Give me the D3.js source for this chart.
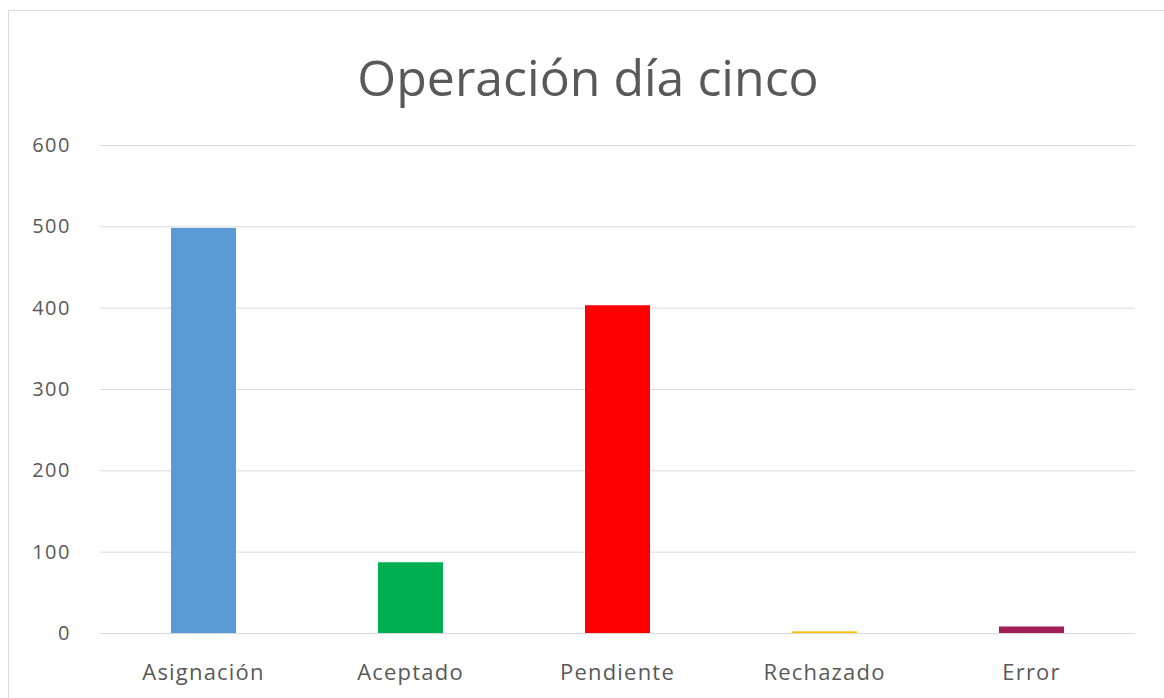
<!DOCTYPE html>
<html><head><meta charset="utf-8">
<script src="https://cdn.jsdelivr.net/npm/d3@7"></script>
<style>body{margin:0;background:#fff}svg{display:block}</style>
</head><body>
<script>
const categories = ["Asignación","Aceptado","Pendiente","Rechazado","Error"];
const values = [498, 87, 403, 2, 8];
const colors = ["#5b9bd5","#00b050","#ff0000","#ffc000","#a21e58"];
const yTicks = [0,100,200,300,400,500,600];
const title = "Operación día cinco";

(function(){
const W = 1164, H = 698;
const svg = d3.select("body").append("svg").attr("width", W).attr("height", H);
svg.append("rect").attr("x",8.5).attr("y",10.5).attr("width",W).attr("height",H)
  .attr("fill","#fff").attr("stroke","#d9d9d9");

const mLeft = 100, mRight = 1135, mTop = 145, mBottom = 633;
const x = d3.scaleBand().domain(categories).range([mLeft,mRight]).paddingInner(0.686).paddingOuter(0.343);
const y = d3.scaleLinear().domain([0,600]).range([mBottom,mTop]);

const font = "'Open Sans', sans-serif";
svg.append("text").attr("x",588).attr("y",96).attr("text-anchor","middle")
  .attr("font-family",font).attr("font-size",50).attr("fill","#595959").text(title);

const yAxis = svg.append("g").attr("transform",`translate(${mLeft},0)`)
  .call(d3.axisLeft(y).tickValues(yTicks).tickSize(-(mRight-mLeft)).tickPadding(29));
yAxis.select(".domain").remove();
yAxis.selectAll(".tick line").attr("stroke","#d9d9d9").attr("stroke-width",1);
yAxis.selectAll(".tick text").attr("font-family",font).attr("font-size",20)
  .attr("letter-spacing","1.5px").attr("fill","#595959");

svg.selectAll(".bar").data(categories).join("rect").attr("class","bar")
  .attr("x",d=>x(d)).attr("width",x.bandwidth())
  .attr("y",(d,i)=>y(values[i])).attr("height",(d,i)=>y(0)-y(values[i]))
  .attr("fill",(d,i)=>colors[i]);

const xAxis = svg.append("g").attr("transform",`translate(0,${mBottom})`)
  .call(d3.axisBottom(x).tickSize(0).tickPadding(31));
xAxis.select(".domain").remove();
xAxis.selectAll(".tick text").attr("font-family",font).attr("font-size",22)
  .attr("letter-spacing","1.2px").attr("fill","#595959");
})();
</script>
</body></html>
